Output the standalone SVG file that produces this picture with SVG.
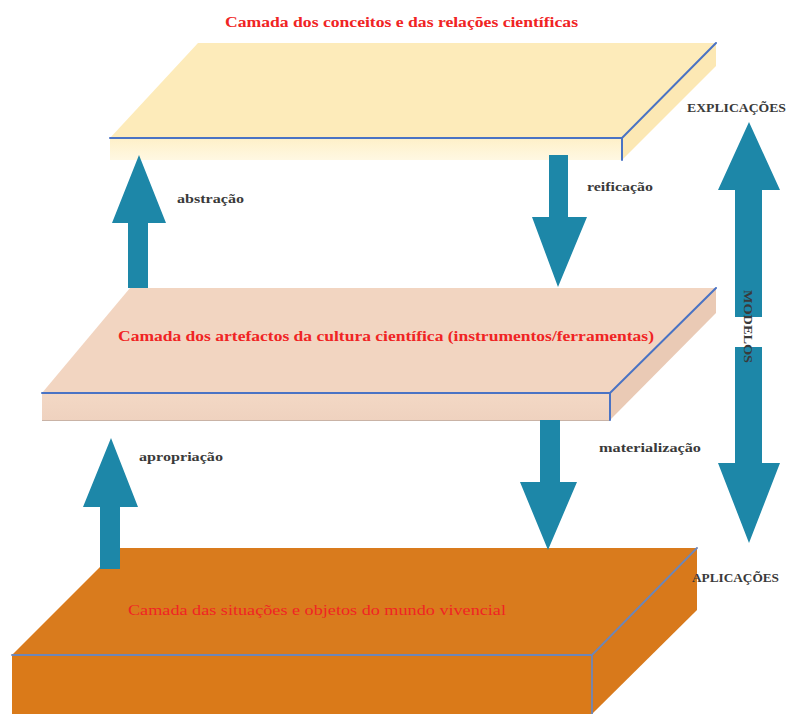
<svg xmlns="http://www.w3.org/2000/svg" width="788" height="714" viewBox="0 0 788 714">
  <defs>
    <linearGradient id="gTopFront" x1="0" y1="0" x2="0" y2="1">
      <stop offset="0" stop-color="#FEF0C8"/>
      <stop offset="1" stop-color="#FFF8E2"/>
    </linearGradient>
    <linearGradient id="gMidFront" x1="0" y1="0" x2="0" y2="1">
      <stop offset="0" stop-color="#F3D8C5"/>
      <stop offset="1" stop-color="#EFD2BF"/>
    </linearGradient>
  </defs>
  <style>
    .edge { fill: none; stroke: #4A73C4; stroke-width: 2; stroke-linecap: round; }
    .edgeB { fill: none; stroke: #6D86B8; stroke-width: 1.8; stroke-linecap: round; }
    .arrow { fill: #1D87A8; }
    .title { font-family: "Liberation Serif", "DejaVu Serif", serif; font-weight: bold; fill: #F02424; font-size: 14px; }
    .title-thin { font-family: "Liberation Serif", "DejaVu Serif", serif; font-weight: normal; fill: #F02424; font-size: 15px; }
    .lbl { font-family: "Liberation Serif", "DejaVu Serif", serif; font-weight: bold; fill: #3A3A3A; font-size: 13px; }
    .cap { font-family: "Liberation Serif", "DejaVu Serif", serif; font-weight: bold; fill: #3A3A3A; font-size: 12px; }
  </style>
  <rect width="788" height="714" fill="#FFFFFF"/>

  <g id="layer-bottom">
    <polygon points="119,548 697,548 592,655 12,655" fill="#D97B1D"/>
    <polygon points="12,655 592,655 592,714 12,714" fill="#DA7A19"/>
    <polygon points="592,655 697,548 697,610 592,714" fill="#D8791B"/>
    <polyline class="edgeB" points="12,655 592,655 697,548"/>
    <line class="edgeB" x1="592" y1="655" x2="592" y2="714"/>
    <text class="title-thin" x="128" y="615" textLength="378" lengthAdjust="spacingAndGlyphs">Camada das situações e objetos do mundo vivencial</text>
  </g>

  <g id="layer-middle">
    <polygon points="130,288 716,288 610,393 42,393" fill="#F2D5C1"/>
    <polygon points="42,393 610,393 610,420 42,420" fill="url(#gMidFront)"/>
    <line x1="42" y1="420.5" x2="610" y2="420.5" stroke="#C9B3A6" stroke-width="1.2"/>
    <polygon points="610,393 716,288 716,313 610,420" fill="#EACAB5"/>
    <polyline class="edge" points="42,393 610,393 716,288"/>
    <line class="edge" x1="610" y1="393" x2="610" y2="420"/>
    <text class="title" x="118" y="341" textLength="536" lengthAdjust="spacingAndGlyphs">Camada dos artefactos da cultura científica (instrumentos/ferramentas)</text>
  </g>

  <g id="layer-top">
    <polygon points="198,43 716,43 622,138 110,138" fill="#FDEBBA"/>
    <polygon points="110,138 622,138 622,160 110,160" fill="url(#gTopFront)"/>
    <polygon points="622,138 716,43 716,66 622,160" fill="#FCE8B4"/>
    <polyline class="edge" points="110,138 622,138 716,43"/>
    <line class="edge" x1="622" y1="138" x2="622" y2="160"/>
    <text class="title" x="225" y="27" textLength="353" lengthAdjust="spacingAndGlyphs">Camada dos conceitos e das relações científicas</text>
  </g>

  <g id="connectors">
    <polygon id="arrow-abstracao" class="arrow" points="139,155 166,223 148,223 148,288 128,288 128,223 112,223"/>
    <polygon id="arrow-reificacao" class="arrow" points="549,155 568,155 568,217 587,217 558,287 532,217 549,217"/>
    <polygon id="arrow-apropriacao" class="arrow" points="111,438 138,507 120,507 120,569 100,569 100,507 83,507"/>
    <polygon id="arrow-materializacao" class="arrow" points="540,420 560,420 560,482 577,482 548,550 520,482 540,482"/>
    <polygon id="arrow-modelos-up" class="arrow" points="749,122 780,190 762,190 762,317 735,317 735,190 718,190"/>
    <polygon id="arrow-modelos-down" class="arrow" points="735,347 762,347 762,463 780,463 749,543 718,463 735,463"/>
  </g>

  <g id="labels">
    <text class="lbl" x="177" y="203" textLength="67" lengthAdjust="spacingAndGlyphs">abstração</text>
    <text class="lbl" x="587" y="191" textLength="66" lengthAdjust="spacingAndGlyphs">reificação</text>
    <text class="lbl" x="139" y="461" textLength="84" lengthAdjust="spacingAndGlyphs">apropriação</text>
    <text class="lbl" x="599" y="452" textLength="102" lengthAdjust="spacingAndGlyphs">materialização</text>
    <text class="cap" x="687" y="112" textLength="99" lengthAdjust="spacingAndGlyphs">EXPLICAÇÕES</text>
    <text class="cap" x="692" y="582" textLength="87" lengthAdjust="spacingAndGlyphs">APLICAÇÕES</text>
    <text class="cap" font-size="13" transform="translate(744,290) rotate(90)" x="0" y="0" textLength="73" lengthAdjust="spacingAndGlyphs">MODELOS</text>
  </g>
</svg>
